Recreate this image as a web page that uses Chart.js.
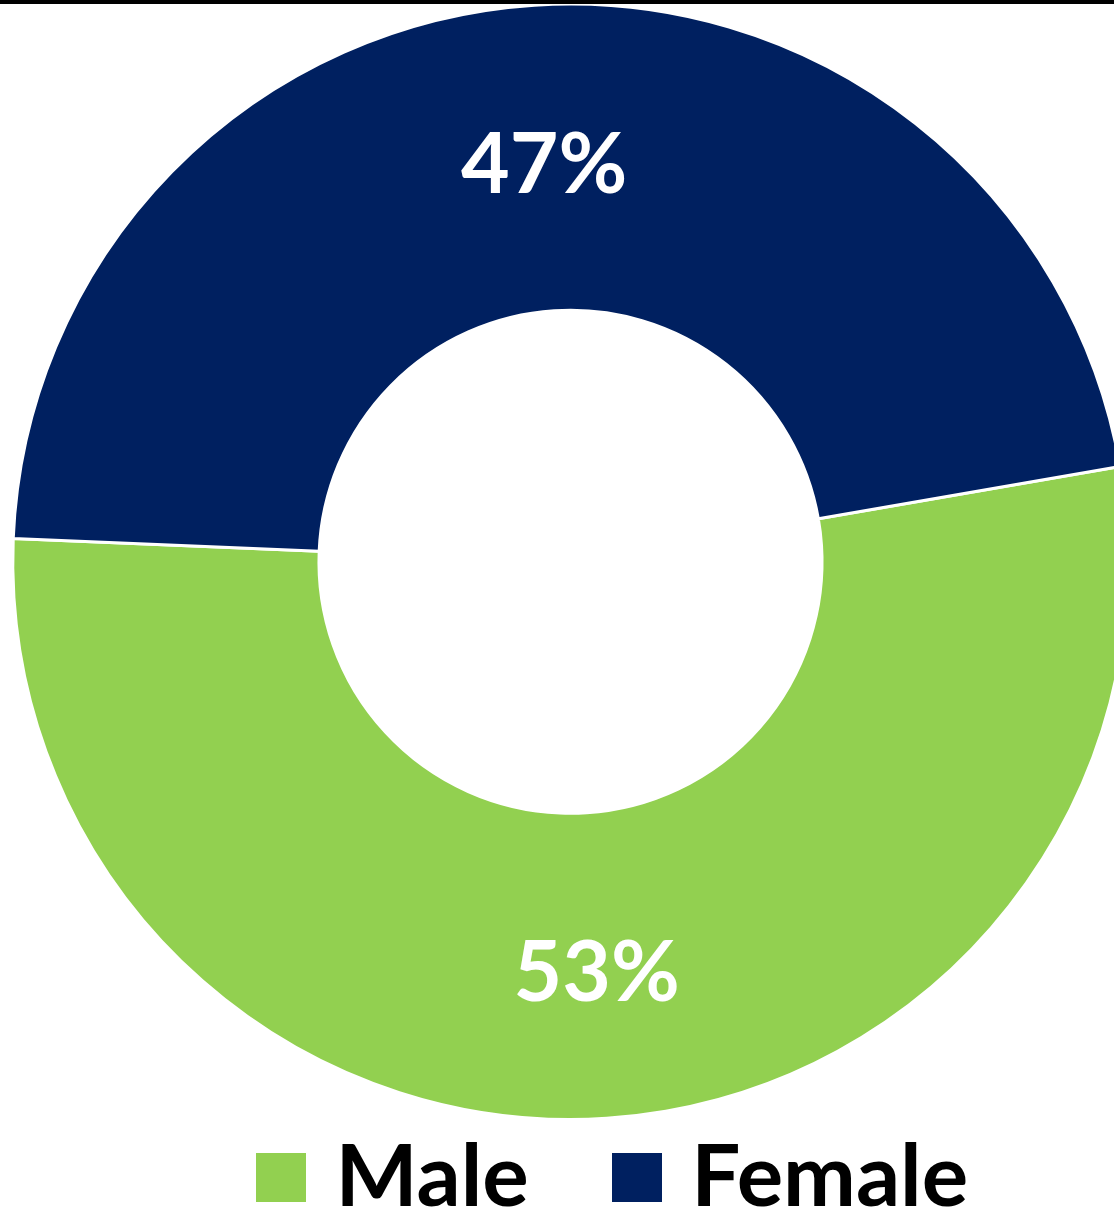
<!DOCTYPE html>
<html>
<head>
<meta charset="utf-8">
<script src="https://cdn.jsdelivr.net/npm/chart.js@4.4.1/dist/chart.umd.min.js"></script>
<style>
    html, body { margin: 0; padding: 0; background: #fff; overflow: hidden; width: 1114px; height: 1209px; }
    #topRule { position: absolute; left: 0; top: 0; width: 100%; height: 4px; background: #000; z-index: 2; }
    #chartGender { position: absolute; left: 0; top: 0; }
</style>
</head>
<body>
<div id="topRule"></div>
<canvas id="chartGender"></canvas>
<script>
// data
const categories = ['Male', 'Female'];
const shares = [53.4, 46.6];
const sliceColors = ['#92D050', '#002060'];

// layout
const LABEL_FONT = { family: 'Lato', weight: 'bold', size: 84 };
const LEGEND_FONT = { family: 'Lato', weight: 'bold', size: 87 };
const LEGEND_GAP = 97;       // space between legend items
const LEGEND_X = 270;        // where the first legend item starts
const LEGEND_Y = 1134;       // top of the legend row
const AREA_TOP = 2.5;
const AREA_H = 1117.6;

const canvas = document.getElementById('chartGender');
canvas.width = 1141;
canvas.height = Math.ceil(AREA_TOP + AREA_H + LEGEND_FONT.size + LEGEND_GAP + 10);

function swatch(color) {
    const c = document.createElement('canvas');
    c.width = 50; c.height = 49;
    const g = c.getContext('2d');
    g.fillStyle = color;
    g.fillRect(0, 0, 50, 49);
    return c;
}

// percentage labels in the middle of each slice
const sliceLabels = {
    id: 'sliceLabels',
    afterDatasetsDraw(chart) {
        const ctx = chart.ctx;
        const data = chart.data.datasets[0].data;
        const total = data.reduce((a, b) => a + b, 0);
        ctx.save();
        ctx.font = `${LABEL_FONT.weight} ${LABEL_FONT.size}px ${LABEL_FONT.family}`;
        ctx.fillStyle = '#fff';
        ctx.textAlign = 'center';
        ctx.textBaseline = 'alphabetic';
        chart.getDatasetMeta(0).data.forEach((arc, i) => {
            const p = arc.tooltipPosition();
            ctx.fillText(Math.round(data[i] / total * 100) + '%', p.x, p.y + 35);
        });
        ctx.restore();
    }
};

// legend sits off-centre like the original, so move it after layout
const placeLegend = {
    id: 'placeLegend',
    afterLayout(chart) {
        const l = chart.legend;
        const pad = l.options.labels.padding;
        const dx = LEGEND_X - pad - l.left;
        const dy = LEGEND_Y - pad - l.top;
        l.left += dx; l.right += dx;
        l.top += dy; l.bottom += dy;
    }
};

new Chart(canvas, {
    type: 'doughnut',
    data: {
        labels: categories,
        datasets: [{
            data: shares,
            backgroundColor: sliceColors,
            borderColor: '#fff',
            borderWidth: 3,
            hoverBorderWidth: 3,
            offset: 0,
            hoverOffset: 0
        }]
    },
    options: {
        responsive: false,
        animation: false,
        events: [],
        rotation: 80.16,
        cutout: '45.1%',
        layout: { padding: { top: AREA_TOP, bottom: 0, left: 0, right: 0 } },
        plugins: {
            tooltip: { enabled: false },
            legend: {
                position: 'bottom',
                align: 'start',
                labels: {
                    usePointStyle: true,
                    pointStyleWidth: 22,
                    boxHeight: 49,
                    padding: LEGEND_GAP,
                    color: '#000',
                    font: LEGEND_FONT,
                    generateLabels: (chart) =>
                        Chart.overrides.doughnut.plugins.legend.labels.generateLabels(chart)
                            .map((item, i) => ({ ...item, pointStyle: swatch(sliceColors[i]) }))
                }
            }
        }
    },
    plugins: [sliceLabels, placeLegend]
});
</script>
</body>
</html>
